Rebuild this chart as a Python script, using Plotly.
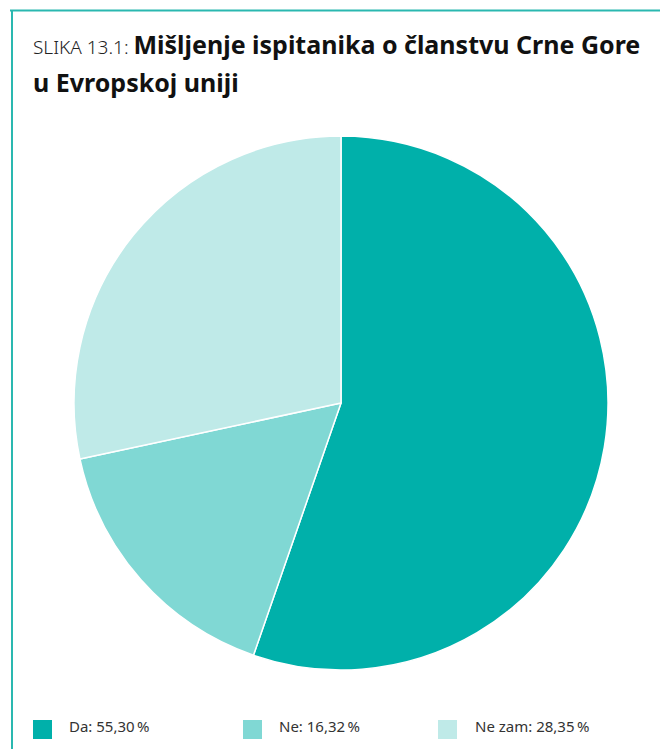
import plotly.graph_objects as go

categories = ["Da", "Ne", "Ne zam"]
values = [55.30, 16.32, 28.35]
colors = ["#00b0aa", "#80d8d4", "#bfeae8"]

def fmt(v):
    return f"{v:.2f}".replace(".", ",") + "\u2009%"

labels = [f"{c}: {fmt(v)}" for c, v in zip(categories, values)]

# page has an 8px body margin; map screen pixels to paper coords
OFF = 8
W, H = 668 - OFF, 749 - OFF

def px(x):
    return (x - OFF) / W

def py(y):
    return (H - (y - OFF)) / H

fig = go.Figure()
fig.add_trace(go.Pie(
    labels=labels, values=values, sort=False, direction="clockwise", rotation=0,
    marker=dict(colors=colors, line=dict(color="white", width=1.5)),
    textinfo="none", hoverinfo="label",
    domain=dict(x=[px(74), px(608)], y=[py(670), py(136)]),
    showlegend=False,
))

teal = "#2ab8b0"
fig.add_shape(type="line", xref="paper", yref="paper", x0=px(10), x1=1, y0=py(10.5), y1=py(10.5),
              line=dict(color=teal, width=2))
fig.add_shape(type="line", xref="paper", yref="paper", x0=px(12), x1=px(12), y0=0, y1=py(10),
              line=dict(color=teal, width=2))

title_font = dict(family="Noto Sans", size=25, color="#111111")
fig.add_annotation(
    xref="paper", yref="paper", x=px(31), y=py(44), xanchor="left", yanchor="middle",
    align="left", showarrow=False,
    text="<span style='font-size:19px;font-weight:300;color:#222'>SLIKA 13.1: </span><b>Mišljenje ispitanika o članstvu Crne Gore</b>",
    font=title_font,
)
fig.add_annotation(
    xref="paper", yref="paper", x=px(31), y=py(82), xanchor="left", yanchor="middle",
    align="left", showarrow=False,
    text="<b>u Evropskoj uniji</b>",
    font=title_font,
)

# legend drawn as squares + text, built from the arrays
sq_x = [33, 243, 438]
txt_x = [67, 277, 473]
for i, (lab, col) in enumerate(zip(labels, colors)):
    fig.add_shape(type="rect", xref="paper", yref="paper",
                  x0=px(sq_x[i]), x1=px(sq_x[i] + 19), y0=py(739), y1=py(720),
                  fillcolor=col, line=dict(width=0))
    fig.add_annotation(xref="paper", yref="paper", x=px(txt_x[i]), y=py(726),
                       xanchor="left", yanchor="middle", showarrow=False, text=lab,
                       font=dict(family="Noto Sans", size=15, color="#333333"))

fig.update_layout(
    width=W, height=H, margin=dict(l=0, r=0, t=0, b=0),
    paper_bgcolor="white", plot_bgcolor="white",
    showlegend=False,
)

fig.write_html("out.html")
